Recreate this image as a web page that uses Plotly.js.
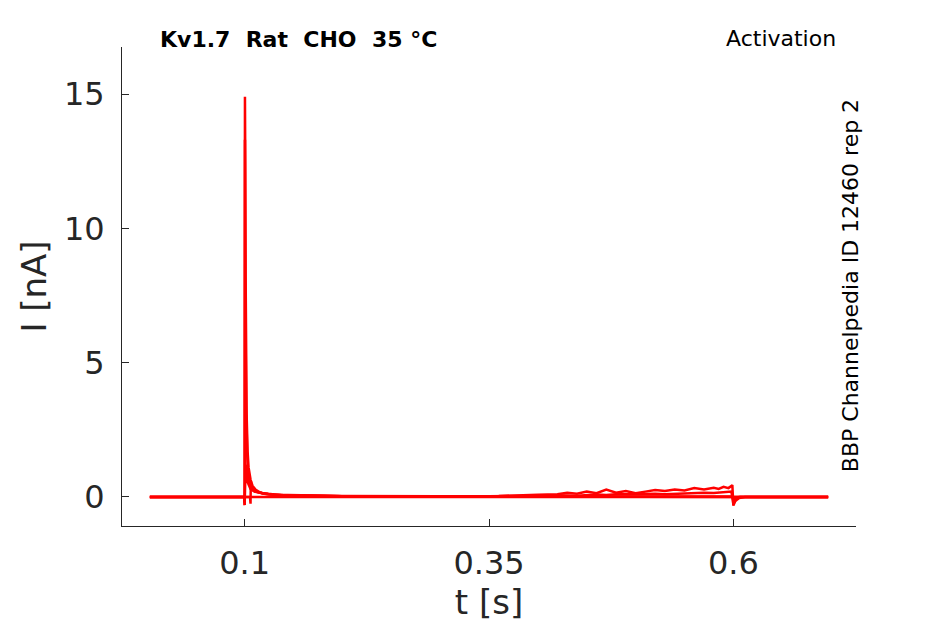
<!DOCTYPE html>
<html>
<head>
<meta charset="utf-8">
<script src="https://cdn.plot.ly/plotly-3.0.1.min.js"></script>
<style>
  body { margin: 0; background: #fff; }
  #chart { width: 945px; height: 624px; }
</style>
</head>
<body>
<div id="chart"></div>
<script>
// sweeps (t in s, I in nA)
const tFlat = [0.003, 0.1, 0.2, 0.3, 0.4, 0.5, 0.6, 0.697];
const iFlat = [0.0, 0.0, 0.0, 0.0, 0.0, 0.0, 0.0, 0.0];

const tSpike1 = [0.003, 0.0995, 0.1, 0.1003, 0.1006, 0.101, 0.1015, 0.102, 0.103, 0.104, 0.106, 0.108, 0.111, 0.115, 0.12, 0.13, 0.15, 0.2, 0.3, 0.4, 0.5, 0.599, 0.6, 0.602, 0.606, 0.697];
const iSpike1 = [0.0, 0.0, -0.3, 14.9, 12.5, 8.2, 5.0, 3.1, 1.7, 1.1, 0.65, 0.42, 0.28, 0.18, 0.12, 0.08, 0.05, 0.03, 0.02, 0.02, 0.02, 0.02, -0.12, -0.05, 0.0, 0.0];

const tSpike2 = [0.003, 0.1055, 0.106, 0.1063, 0.1068, 0.1075, 0.108, 0.109, 0.111, 0.114, 0.118, 0.124, 0.13, 0.14, 0.2, 0.3, 0.35, 0.4, 0.42, 0.44, 0.46, 0.47, 0.48, 0.5, 0.52, 0.53, 0.55, 0.57, 0.58, 0.59, 0.598, 0.6, 0.603, 0.607, 0.697];
const iSpike2 = [0.0, 0.0, -0.25, 0.6, 0.45, 0.35, 0.3, 0.25, 0.2, 0.17, 0.15, 0.12, 0.1, 0.06, 0.03, 0.02, 0.03, 0.04, 0.06, 0.05, 0.09, 0.07, 0.1, 0.1, 0.12, 0.1, 0.14, 0.16, 0.15, 0.19, 0.2, -0.25, -0.08, 0.0, 0.0];

const tSpike3 = [0.003, 0.0995, 0.1, 0.1003, 0.1008, 0.1015, 0.102, 0.103, 0.105, 0.108, 0.112, 0.118, 0.125, 0.14, 0.2, 0.3, 0.4, 0.5, 0.6, 0.697];
const iSpike3 = [0.0, 0.0, -0.2, 13.3, 7.0, 3.4, 2.0, 1.0, 0.5, 0.28, 0.2, 0.14, 0.1, 0.06, 0.03, 0.02, 0.02, 0.02, 0.0, 0.0];

const tNoisy = [0.003, 0.0995, 0.1, 0.101, 0.103, 0.106, 0.11, 0.114, 0.12, 0.13, 0.2, 0.3, 0.36, 0.4, 0.42, 0.43, 0.44, 0.45, 0.46, 0.47, 0.48, 0.49, 0.5, 0.51, 0.52, 0.53, 0.54, 0.55, 0.56, 0.57, 0.58, 0.585, 0.59, 0.595, 0.599, 0.6, 0.602, 0.606, 0.612, 0.697];
const iNoisy = [0.0, 0.0, -0.3, 1.2, 0.55, 0.3, 0.2, 0.17, 0.12, 0.08, 0.04, 0.03, 0.04, 0.08, 0.1, 0.16, 0.12, 0.2, 0.14, 0.28, 0.16, 0.22, 0.14, 0.2, 0.26, 0.22, 0.28, 0.24, 0.33, 0.28, 0.34, 0.3, 0.38, 0.33, 0.44, -0.32, -0.15, -0.04, 0.0, 0.0];

const xTicks = [0.1, 0.35, 0.6];
const xTickText = ['0.1', '0.35', '0.6'];
const yTicks = [0, 5, 10, 15];

const red = '#ff0000';
const ink = '#262626';

function sweep(t, i) {
  return { x: t, y: i, type: 'scatter', mode: 'lines', line: { color: red, width: 2.5 }, hoverinfo: 'skip' };
}

const traces = [
  sweep(tFlat, iFlat),
  sweep(tNoisy, iNoisy),
  sweep(tSpike2, iSpike2),
  sweep(tSpike3, iSpike3),
  sweep(tSpike1, iSpike1)
];

const layout = {
  width: 945,
  height: 624,
  margin: { l: 122, r: 89, t: 47, b: 98 },
  paper_bgcolor: '#fff',
  plot_bgcolor: '#fff',
  showlegend: false,
  font: { family: 'DejaVu Sans', color: ink },
  xaxis: {
    range: [-0.0255, 0.7255],
    tickvals: xTicks,
    ticktext: xTickText,
    ticks: 'inside',
    ticklen: 7,
    tickcolor: ink,
    tickfont: { size: 32, color: ink },
    ticklabelstandoff: 9,
    showline: true,
    linecolor: ink,
    linewidth: 1,
    showgrid: false,
    zeroline: false,
    title: { text: 't [s]', font: { size: 34, color: ink }, standoff: 8 }
  },
  yaxis: {
    range: [-1.08, 16.75],
    tickvals: yTicks,
    ticks: 'inside',
    ticklen: 7,
    tickcolor: ink,
    tickfont: { size: 32, color: ink },
    ticklabelstandoff: 10,
    showline: true,
    linecolor: ink,
    linewidth: 1,
    showgrid: false,
    zeroline: false,
    title: { text: 'I [nA]', font: { size: 34, color: ink }, standoff: 6 }
  },
  annotations: [
    {
      text: '<b>Kv1.7\u00a0\u00a0Rat\u00a0\u00a0CHO\u00a0\u00a035\u00a0°C</b>',
      xref: 'paper', yref: 'paper', x: 0.049, y: 1.015,
      xanchor: 'left', yanchor: 'middle', showarrow: false,
      font: { size: 22, color: '#000' }
    },
    {
      text: 'Activation',
      xref: 'paper', yref: 'paper', x: 0.9755, y: 1.017,
      xanchor: 'right', yanchor: 'middle', showarrow: false,
      font: { size: 22, color: '#000' }
    },
    {
      text: 'BBP Channelpedia ID 12460 rep 2',
      xref: 'paper', yref: 'paper', x: 0.992, y: 0.501,
      xanchor: 'center', yanchor: 'middle', showarrow: false,
      textangle: -90,
      font: { size: 22, color: '#000' }
    }
  ]
};

Plotly.newPlot('chart', traces, layout, { displayModeBar: false, staticPlot: true });
</script>
</body>
</html>
